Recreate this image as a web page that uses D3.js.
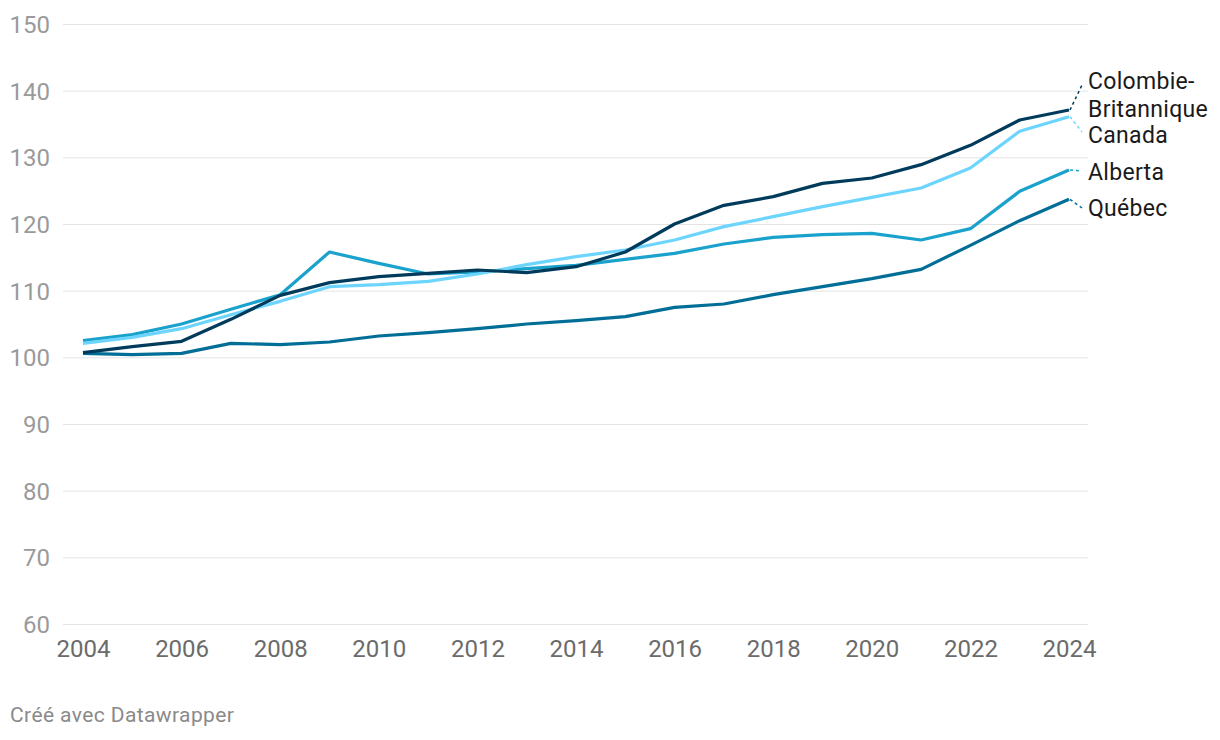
<!DOCTYPE html>
<html>
<head>
<meta charset="utf-8">
<script src="https://cdn.jsdelivr.net/npm/d3@7"></script>
<style>
  body { margin: 0; background: #fff; font-family: Roboto, "Noto Sans", sans-serif; }
  .grid line { stroke: #e3e3e3; stroke-width: 1; }
</style>
</head>
<body>
<div id="vis"></div>
<script>
// declare constants
const FRAME_WIDTH = 1220
const FRAME_HEIGHT = 740
const MARGINS = {left: 63, right: 132, top: 24, bottom: 116}

const VIS_WIDTH = FRAME_WIDTH - MARGINS.left - MARGINS.right
const VIS_HEIGHT = FRAME_HEIGHT - MARGINS.top - MARGINS.bottom

// data
const years = [2004, 2005, 2006, 2007, 2008, 2009, 2010, 2011, 2012, 2013, 2014,
               2015, 2016, 2017, 2018, 2019, 2020, 2021, 2022, 2023, 2024]

const quebec = [100.6, 100.4, 100.6, 102.1, 101.9, 102.3, 103.2, 103.7, 104.3, 105.0, 105.5,
                106.1, 107.5, 108.0, 109.4, 110.6, 111.8, 113.2, 116.8, 120.5, 123.7]
const alberta = [102.5, 103.4, 105.0, 107.2, 109.4, 115.8, 114.1, 112.5, 112.8, 113.3, 113.8,
                 114.7, 115.6, 117.0, 118.0, 118.4, 118.6, 117.6, 119.3, 124.9, 128.1]
const canada = [102.1, 103.0, 104.3, 106.4, 108.4, 110.6, 110.9, 111.4, 112.5, 113.9, 115.1,
                116.1, 117.6, 119.6, 121.1, 122.6, 124.0, 125.4, 128.4, 133.9, 136.1]
const cb = [100.7, 101.6, 102.4, 105.7, 109.3, 111.2, 112.1, 112.6, 113.1, 112.7, 113.6,
            115.8, 120.0, 122.8, 124.1, 126.1, 126.9, 128.9, 131.8, 135.6, 137.1]

const yTicks = [60, 70, 80, 90, 100, 110, 120, 130, 140, 150]
const xTicks = [2004, 2006, 2008, 2010, 2012, 2014, 2016, 2018, 2020, 2022, 2024]

const series = [
  {name: "Québec", values: quebec, color: "#006e97", label: ["Québec"], labelY: 208, lineTo: 208},
  {name: "Alberta", values: alberta, color: "#1aa2cc", label: ["Alberta"], labelY: 172, lineTo: 171},
  {name: "Canada", values: canada, color: "#6dd5fd", label: ["Canada"], labelY: 135, lineTo: 132},
  {name: "Colombie-Britannique", values: cb, color: "#003b5c", label: ["Colombie-", "Britannique"], labelY: 81, lineTo: 85}
]

const FRAME = d3.select('#vis')
                .append('svg')
                .attr('width', FRAME_WIDTH)
                .attr('height', FRAME_HEIGHT)

const x = d3.scaleLinear()
            .domain([2004, 2024])
            .range([MARGINS.left + 20, MARGINS.left + 1006])

const y = d3.scaleLinear()
            .domain([60, 150])
            .range([MARGINS.top + VIS_HEIGHT, MARGINS.top])

// gridlines + y labels
const yAxis = FRAME.append("g")
    .attr("class", "grid")
    .attr("transform", "translate(" + MARGINS.left + ",0)")
    .call(d3.axisRight(y).tickValues(yTicks).tickSize(VIS_WIDTH).tickFormat(d3.format("d")))
yAxis.select(".domain").remove()
yAxis.selectAll("text")
    .attr("x", -13)
    .attr("dy", "0.36em")
    .attr("text-anchor", "end")
    .attr("fill", "#9a9a9a")
    .attr("font-size", "24px")
    .attr("font-family", "Roboto")

// x axis labels
const xAxis = FRAME.append("g")
    .attr("transform", "translate(0," + (MARGINS.top + VIS_HEIGHT) + ")")
    .call(d3.axisBottom(x).tickValues(xTicks).tickSize(0).tickFormat(d3.format("d")))
xAxis.select(".domain").remove()
xAxis.selectAll("text")
    .attr("y", 16)
    .attr("dy", "0.71em")
    .attr("fill", "#6b6b6b")
    .attr("font-size", "24px")
    .attr("font-family", "Roboto")

// lines
const line = d3.line()
    .x((d, i) => x(years[i]))
    .y(d => y(d))

FRAME.selectAll(".series")
    .data(series)
    .enter()
    .append("path")
      .attr("d", d => line(d.values))
      .attr("fill", "none")
      .attr("stroke", d => d.color)
      .attr("stroke-width", 3.2)
      .attr("stroke-linejoin", "round")

// labels with dotted connectors
const labelX = x(2024) + 19
series.forEach(s => {
  const endY = y(s.values[s.values.length - 1])
  FRAME.append("line")
      .attr("x1", x(2024) + 1)
      .attr("y1", endY)
      .attr("x2", x(2024) + 13)
      .attr("y2", s.lineTo)
      .attr("stroke", s.color)
      .attr("stroke-width", 1.5)
      .attr("stroke-dasharray", "3,3")
  const t = FRAME.append("text")
      .attr("x", labelX)
      .attr("y", s.labelY)
      .attr("font-size", "23px")
      .attr("letter-spacing", "0.3px")
      .attr("font-family", "Roboto")
      .attr("fill", "#1a1a1a")
  s.label.forEach((l, i) => {
    t.append("tspan")
      .attr("x", labelX)
      .attr("y", s.labelY + i * 28)
      .attr("dy", "0.36em")
      .text(l)
  })
})

// footer
FRAME.append("text")
    .attr("x", 10)
    .attr("y", 722)
    .attr("font-size", "21px")
    .attr("letter-spacing", "0.4px")
    .attr("font-family", "Roboto")
    .attr("fill", "#8a8a8a")
    .text("Créé avec Datawrapper")
</script>
</body>
</html>
